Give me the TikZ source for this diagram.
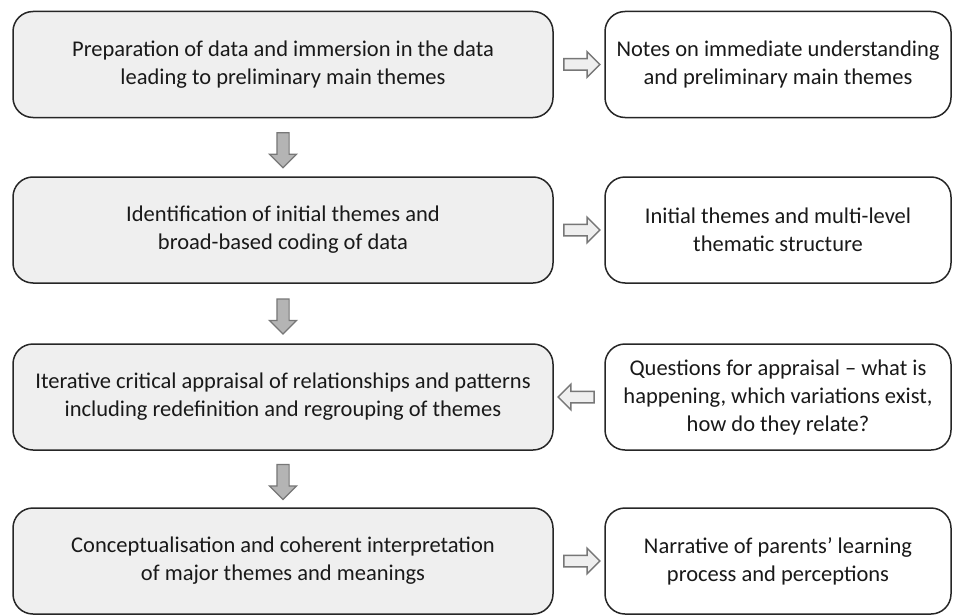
\documentclass[tikz,border=0pt]{standalone}
\usepackage{fontspec}
\setmainfont{Carlito}
\usetikzlibrary{positioning}
\usetikzlibrary{calc}
\usetikzlibrary{shapes.arrows}
\definecolor{boxgray}{HTML}{EFEFEF}
\definecolor{arrline}{HTML}{777777}
\definecolor{arrfill}{HTML}{B4B4B4}
\tikzset{
  stagebox/.style={draw=black!85, line width=1.5pt, rounded corners=20pt,
    fill=boxgray, minimum width=540pt, minimum height=106pt, inner sep=0pt,
    align=center, text=black!90, font=\fontsize{22.5}{28}\selectfont},
  notebox/.style={stagebox, fill=white, minimum width=346pt},
  downarr/.style={single arrow, draw=arrline, fill=arrfill, line width=1.2pt,
    inner xsep=0pt, inner ysep=5.5pt, single arrow head extend=7.5pt,
    minimum height=35pt, rotate=-90},
  sidearr/.style={single arrow, draw=arrline, fill=boxgray, line width=1.5pt,
    inner xsep=0pt, inner ysep=5pt, single arrow head extend=7pt,
    minimum height=36pt}
}
\begin{document}
\begin{tikzpicture}[x=1pt,y=1pt]
  \useasboundingbox (0,0) rectangle (957,-615);
  % stages of the analysis
  \node[stagebox] at (283,-64.5) (nstage1) {Preparation of data and immersion in the data\\leading to preliminary main themes};
  \node[stagebox] at (283,-230) (nstage2) {Identification of initial themes and\\broad-based coding of data};
  \node[stagebox] at (283,-397) (nstage3) {Iterative critical appraisal of relationships and patterns\\including redefinition and regrouping of themes};
  \node[stagebox] at (283,-561) (nstage4) {Conceptualisation and coherent interpretation\\of major themes and meanings};
  % outputs
  \node[notebox] at (778,-64.5) (nnote1) {Notes on immediate understanding\\and preliminary main themes};
  \node[notebox] at (778,-230) (nnote2) {Initial themes and multi-level\\thematic structure};
  \node[notebox] at (778,-397) (nnote3) {Questions for appraisal -- what is\\happening, which variations exist,\\how do they relate?};
  \node[notebox] at (778,-561) (nnote4) {Narrative of parents' learning\\process and perceptions};
  % arrows between stages
  \node[downarr] at ($(nstage1.south)!0.5!(nstage2.north)$) (ndown1) {};
  \node[downarr] at ($(nstage2.south)!0.5!(nstage3.north)$) (ndown2) {};
  \node[downarr] at ($(nstage3.south)!0.5!(nstage4.north)$) (ndown3) {};
  % arrows to and from outputs
  \node[sidearr] at ($(nstage1.east)!0.5!(nnote1.west)$) (nside1) {};
  \node[sidearr] at ($(nstage2.east)!0.5!(nnote2.west)$) (nside2) {};
  \node[sidearr,rotate=180] at ($(nstage3.east)!0.5!(nnote3.west)$) (nside3) {};
  \node[sidearr] at ($(nstage4.east)!0.5!(nnote4.west)$) (nside4) {};
\end{tikzpicture}
\end{document}
